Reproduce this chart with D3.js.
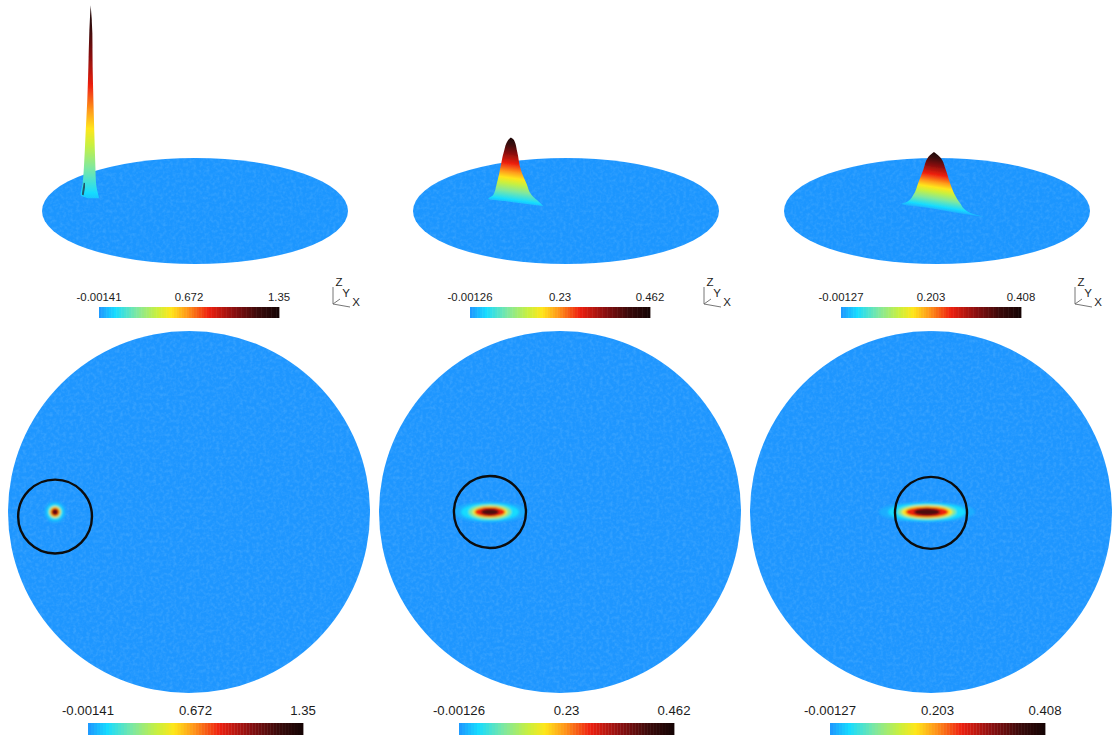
<!DOCTYPE html>
<html><head><meta charset="utf-8">
<style>html,body{margin:0;padding:0;background:#fff;overflow:hidden}svg{display:block}
text{font-family:"Liberation Sans",Arial,sans-serif;fill:#1c1c1c}</style>
<script src="https://cdn.jsdelivr.net/npm/d3@7"></script></head><body>
<script>
// ---------- data ----------
const panels = [0, 1, 2];
const tickMin = ["-0.00141", "-0.00126", "-0.00127"];
const tickMid = ["0.672", "0.23", "0.203"];
const tickMax = ["1.35", "0.462", "0.408"];
const valueMax = [1.35, 0.462, 0.408];

// colour map: position along the bar, colour
const cmapPos = [0, 0.09, 0.21, 0.32, 0.40, 0.49, 0.61, 0.75, 0.88, 1];
const cmapCol = ["#1e96ff", "#18dcff", "#7fe8a0", "#c8f040", "#ffe61a", "#ff981a", "#ee2010", "#8b0f10", "#3c0a0a", "#140404"];

// top-down view: peak and ring centres in disc units
const peakX = [-0.74, -0.387, -0.022];
const peakY = [0, 0, 0];
const ringX = [-0.74, -0.387, 0];
const ringY = [-0.025, 0, -0.005];
const ringR = [0.204, 0.199, 0.199];
// contours of each spot: level as fraction of max, half-width, half-height (disc units)
const levels = [0.03, 0.09, 0.22, 0.40, 0.61, 0.85];
const spotRx = [
  [0.060, 0.046, 0.035, 0.030, 0.024, 0.015],
  [0.205, 0.160, 0.118, 0.095, 0.083, 0.050],
  [0.265, 0.215, 0.162, 0.140, 0.118, 0.072]];
const spotRy = [
  [0.060, 0.046, 0.035, 0.030, 0.024, 0.015],
  [0.058, 0.049, 0.042, 0.033, 0.027, 0.018],
  [0.056, 0.050, 0.042, 0.036, 0.029, 0.020]];

// perspective view: peak foot on the ground plane
const footX = [-0.682, -0.36, -0.02];
const footY = [0.264, 0.15, 0.02];
const isoSlope = [0.04, 0.14, 0.16];
const colourLift = [0.1, 0.02, 0.01];
// silhouette: height value, extent to the left and to the right of the axis
const hillZ = [
  [-0.008, 0.014, 0.099, 0.211, 0.45, 0.683, 0.915, 1.155, 1.35],
  [-0.021, 0.0092, 0.028, 0.056, 0.134, 0.232, 0.362, 0.444, 0.462],
  [-0.049, -0.028, 0.014, 0.042, 0.056, 0.106, 0.19, 0.282, 0.373, 0.408]];
const hillL = [
  [0.02, 0.065, 0.052, 0.044, 0.033, 0.022, 0.015, 0.009, 0],
  [-0.209, 0.011, 0.148, 0.116, 0.093, 0.072, 0.046, 0.018, 0],
  [-0.333, -0.196, 0.035, 0.211, 0.178, 0.135, 0.103, 0.07, 0.037, 0]];
const hillR = [
  [0.055, 0.05, 0.035, 0.031, 0.024, 0.018, 0.013, 0.011, 0],
  [0.211, 0.183, 0.161, 0.135, 0.103, 0.065, 0.041, 0.02, 0],
  [0.333, 0.257, 0.192, 0.175, 0.165, 0.137, 0.105, 0.078, 0.039, 0]];
// dark left flank at the foot of the narrow spike: height range
const flankZ = [0.014, 0.099];

// ---------- layout ----------
const W = 1115, H = 736;
const discCx = d3.scaleLinear().domain([0, 2]).range([189, 931]);
const groundCx = d3.scaleLinear().domain([0, 2]).range([195, 937]);
const barTop = d3.scaleLinear().domain([0, 2]).range([99, 841]);
const barBot = d3.scaleLinear().domain([0, 2]).range([88, 830]);
const DISC_R = 181, DISC_CY = 512, GR_RX = 153, GR_RY = 53, GR_CY = 211, BAR_TOP_W = 180, BAR_BOT_W = 215, Z_PX = 142;
const cmap = d3.scaleLinear().domain(cmapPos).range(cmapCol).interpolate(d3.interpolateRgb).clamp(true);
const bands = d3.range(72);

const svg = d3.select("body").append("svg").attr("width", W).attr("height", H).attr("viewBox", `0 0 ${W} ${H}`);
const defs = svg.append("defs");
defs.append("filter").attr("id", "soft").attr("x", "-30%").attr("y", "-60%").attr("width", "160%").attr("height", "220%")
  .append("feGaussianBlur").attr("stdDeviation", 0.9);
defs.append("filter").attr("id", "edge").attr("x", "-10%").attr("y", "-10%").attr("width", "120%").attr("height", "120%")
  .append("feGaussianBlur").attr("stdDeviation", 0.45);
const grain = defs.append("filter").attr("id", "grain").attr("x", 0).attr("y", 0).attr("width", "100%").attr("height", "100%");
grain.append("feTurbulence").attr("type", "fractalNoise").attr("baseFrequency", 0.3).attr("numOctaves", 2).attr("seed", 4);
grain.append("feColorMatrix").attr("type", "matrix").attr("values", "0 0 0 0 0.55  0 0 0 0 0.80  0 0 0 0 1  1.6 0 0 0 -0.62");

function drawBar(g, x0, w, y, h) {
  const x = d3.scaleBand().domain(bands).range([x0, x0 + w]);
  g.selectAll(null).data(bands).join("rect")
    .attr("x", d => x(d)).attr("y", y).attr("width", x.bandwidth() + 0.4).attr("height", h)
    .attr("fill", d => cmap((d + 0.5) / bands.length));
}
function drawLabels(g, x0, w, y, size, i) {
  const x = d3.scaleLinear().domain([0, 1]).range([x0, x0 + w]);
  [[0, tickMin[i]], [0.5, tickMid[i]], [1, tickMax[i]]].forEach(([p, s]) =>
    g.append("text").attr("x", x(p)).attr("y", y).attr("text-anchor", "middle").attr("font-size", size).text(s));
}

panels.forEach(i => {
  // ----- perspective view -----
  const top = svg.append("g");
  const gx = d3.scaleLinear().domain([-1, 1]).range([groundCx(i) - GR_RX, groundCx(i) + GR_RX]);
  const gy = d3.scaleLinear().domain([-1, 1]).range([GR_CY + GR_RY, GR_CY - GR_RY]);
  const clipT = "clipT" + i;
  defs.append("clipPath").attr("id", clipT).append("ellipse")
    .attr("cx", gx(0)).attr("cy", gy(0)).attr("rx", GR_RX).attr("ry", GR_RY);
  top.append("ellipse").attr("cx", gx(0)).attr("cy", gy(0)).attr("rx", GR_RX).attr("ry", GR_RY)
    .attr("fill", cmap(0)).attr("filter", "url(#edge)");
  top.append("g").attr("clip-path", `url(#${clipT})`).append("rect")
    .attr("x", gx(-1)).attr("y", gy(1)).attr("width", 2 * GR_RX).attr("height", 2 * GR_RY)
    .attr("filter", "url(#grain)").attr("opacity", 0.18);

  const zy = d3.scaleLinear().domain([0, valueMax[i]])
    .range([gy(footY[i]), gy(footY[i]) - valueMax[i] * Z_PX]);
  const axisX = gx(footX[i]);
  const rise = valueMax[i] * Z_PX;
  const grad = defs.append("linearGradient").attr("id", "hill" + i).attr("gradientUnits", "userSpaceOnUse")
    .attr("x1", axisX).attr("x2", axisX + isoSlope[i] * rise)
    .attr("y1", zy(-colourLift[i])).attr("y2", zy(valueMax[i]));
  cmapPos.forEach((p, k) => grad.append("stop").attr("offset", p).attr("stop-color", cmapCol[k]));
  const px = d => d * GR_RX;
  const area = d3.area().curve(d3.curveMonotoneY)
    .y(k => zy(hillZ[i][k]))
    .x0(k => axisX - px(hillL[i][k]))
    .x1(k => axisX + px(hillR[i][k]));
  top.append("path").attr("d", area(d3.range(hillZ[i].length)))
    .attr("fill", `url(#hill${i})`).attr("filter", "url(#edge)");
  if (i === 0) {
    top.append("line")
      .attr("x1", axisX - px(hillL[0][1]) + 2).attr("y1", zy(flankZ[0]))
      .attr("x2", axisX - px(hillL[0][2]) + 2).attr("y2", zy(flankZ[1]))
      .attr("stroke", "#24586c").attr("stroke-width", 2).attr("filter", "url(#edge)");
  }

  // ----- colour bar over perspective view -----
  const bt = svg.append("g");
  drawBar(bt, barTop(i), BAR_TOP_W, 307, 11);
  drawLabels(bt, barTop(i), BAR_TOP_W, 301, 11.4, i);

  // ----- axis triad -----
  const o = barTop(i) + 234;
  const tri = svg.append("g").attr("stroke", "#666").attr("stroke-width", 0.9).attr("fill", "none");
  [[0, -17], [17, 3], [7, -5]].forEach(([dx, dy]) =>
    tri.append("line").attr("x1", o).attr("y1", 304).attr("x2", o + dx).attr("y2", 304 + dy));
  [["Z", 6, -18], ["Y", 13, -7], ["X", 23, 2]].forEach(([s, dx, dy]) =>
    svg.append("text").attr("x", o + dx).attr("y", 304 + dy).attr("text-anchor", "middle")
      .attr("font-size", 11.5).text(s));

  // ----- top-down view -----
  const down = svg.append("g");
  const dx = d3.scaleLinear().domain([-1, 1]).range([discCx(i) - DISC_R, discCx(i) + DISC_R]);
  const dy = d3.scaleLinear().domain([-1, 1]).range([DISC_CY + DISC_R, DISC_CY - DISC_R]);
  const clipD = "clipD" + i;
  defs.append("clipPath").attr("id", clipD).append("circle").attr("cx", dx(0)).attr("cy", dy(0)).attr("r", DISC_R);
  down.append("circle").attr("cx", dx(0)).attr("cy", dy(0)).attr("r", DISC_R).attr("fill", cmap(0));
  down.append("g").attr("clip-path", `url(#${clipD})`).append("rect")
    .attr("x", dx(-1)).attr("y", dy(1)).attr("width", 2 * DISC_R).attr("height", 2 * DISC_R)
    .attr("filter", "url(#grain)").attr("opacity", 0.2);
  const spots = down.append("g").attr("filter", "url(#soft)").attr("clip-path", `url(#${clipD})`);
  spots.selectAll(null).data(levels).join("ellipse")
    .attr("cx", dx(peakX[i])).attr("cy", dy(peakY[i]))
    .attr("rx", (d, k) => spotRx[i][k] * DISC_R).attr("ry", (d, k) => spotRy[i][k] * DISC_R)
    .attr("fill", d => cmap(d));
  down.append("circle").attr("cx", dx(ringX[i])).attr("cy", dy(ringY[i])).attr("r", ringR[i] * DISC_R)
    .attr("fill", "none").attr("stroke", "#0c0c0c").attr("stroke-width", 2.4);

  // ----- bottom colour bar -----
  const bb = svg.append("g");
  drawBar(bb, barBot(i), BAR_BOT_W, 723, 12);
  drawLabels(bb, barBot(i), BAR_BOT_W, 715, 13.2, i);
});
</script></body></html>
